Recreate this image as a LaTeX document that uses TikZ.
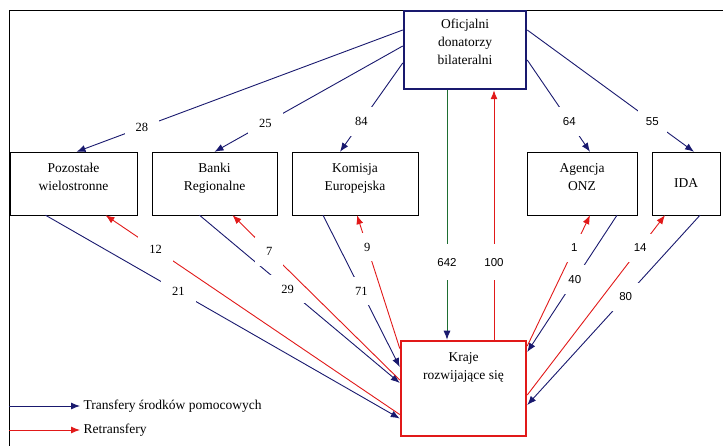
\documentclass[tikz,border=0pt]{standalone}
\usepackage{fontspec}
\setmainfont{Liberation Serif}
\newfontfamily\zifferfont{Liberation Sans}
\usetikzlibrary{arrows.meta}
\definecolor{granat}{RGB}{25,25,110}
\definecolor{rot}{RGB}{225,25,25}
\definecolor{gruen}{RGB}{30,110,50}
\tikzset{
  Kasten/.style={draw,thin,minimum height=63pt,align=center,inner sep=2pt,
    font=\fontsize{13.5}{18}\selectfont}, % Empfaenger
  Pfeil/.style={line width=0.9pt,-{Latex[length=9pt,width=7pt]}}, % Grundpfeil
  TPfeil/.style={granat,Pfeil}, % Transfers
  RPfeil/.style={rot,Pfeil}, % Retransfers
  Wert/.style={fill=white,text=black,inner xsep=11pt,inner ysep=10pt,
    font=\fontsize{12.5}{14}\selectfont},
  WertS/.style={Wert,inner xsep=8pt,font=\zifferfont\fontsize{11.5}{13}\selectfont}
}
\begin{document}
\begin{tikzpicture}[x=1pt,y=-1pt]
\useasboundingbox (0,0) rectangle (723,446);

%Rahmen
\draw[thin] (9,446) -- (9,10) -- (723,10);

%Knoten
\node[draw=granat,line width=2.5pt,fill=white,minimum width=122pt,minimum height=78pt,
  align=center,text depth=16pt,font=\fontsize{13.5}{18}\selectfont] (don) at (465,50)
  {Oficjalni\\donatorzy\\bilateralni};
\node[Kasten,text depth=13pt,minimum width=127pt] (poz) at (73.5,183.5) {Pozostałe\\wielostronne};
\node[Kasten,text depth=13pt,minimum width=125pt] (ban) at (214.5,183.5) {Banki\\Regionalne};
\node[Kasten,text depth=13pt,minimum width=126pt] (kom) at (355,183.5) {Komisja\\Europejska};
\node[Kasten,text depth=13pt,minimum width=110pt] (onz) at (582,183.5) {Agencja\\ONZ};
\node[Kasten,minimum width=68pt] (ida) at (686,183.5) {IDA};
\node[draw=rot,line width=2.5pt,minimum width=125pt,minimum height=95pt] (kra) at (463.5,388.5) {};
\node[anchor=north,align=center,font=\fontsize{13.5}{18}\selectfont] (krat)
  at ([yshift=-9pt]kra.north) {Kraje\\rozwijające się};

%Transfery od donatorow
\draw[TPfeil] ([yshift=20pt]don.west) -- node[Wert,pos=0.8]{28} ([xshift=3pt]poz.north);
\draw[TPfeil] ([yshift=4pt]don.west) -- node[Wert,pos=0.73]{25} (ban.north);
\draw[TPfeil] ([yshift=-13pt]don.west) -- node[Wert,pos=0.66]{84} ([xshift=-15pt]kom.north);
\draw[TPfeil] ([yshift=-10pt]don.east) -- node[WertS,pos=0.67]{64} ([xshift=8pt]onz.north);
\draw[TPfeil] ([yshift=20pt]don.east) -- node[WertS,pos=0.75]{55} ([xshift=8pt]ida.north);

%Bilateralne bezposrednio
\draw[gruen,line width=0.9pt,-{Latex[length=9pt,width=7pt,color=granat]}] ([xshift=-18pt]don.south)
  -- node[WertS,inner ysep=14pt,pos=0.69]{642} ([xshift=-18pt]don.south |- kra.north);
\draw[RPfeil] ([xshift=29pt]don.south |- kra.north) -- node[WertS,inner ysep=14pt,pos=0.31]{100} ([xshift=29pt]don.south);

%Transfery do krajow
\draw[TPfeil] ([xshift=-28pt]poz.south) -- node[Wert,pos=0.375]{21} ([yshift=-30pt]kra.west);
\draw[TPfeil] ([xshift=-15pt]ban.south) -- node[Wert,pos=0.44]{29} ([yshift=5.5pt]kra.west);
\draw[TPfeil] ([xshift=-32pt]kom.south) -- node[Wert,pos=0.5]{71} ([yshift=21.5pt]kra.west);
\draw[TPfeil] ([xshift=35pt]onz.south) -- node[WertS,pos=0.47]{40} ([yshift=36.5pt]kra.east);
\draw[TPfeil] ([xshift=14pt]ida.south) -- node[WertS,pos=0.43]{80} ([yshift=-16.5pt]kra.east);

%Retransfery
\draw[RPfeil] ([yshift=-26pt]kra.west) -- node[Wert,pos=0.83]{12} ([xshift=32pt]poz.south);
\draw[RPfeil] ([yshift=8.5pt]kra.west) -- node[Wert,pos=0.78]{7} ([xshift=18pt]ban.south);
\draw[RPfeil] ([yshift=40pt]kra.west) -- node[Wert,pos=0.76]{9} ([xshift=2pt]kom.south);
\draw[RPfeil] ([yshift=42.5pt]kra.east) -- node[WertS,pos=0.75]{1} ([xshift=8pt]onz.south);
\draw[RPfeil] ([yshift=-6.5pt]kra.east) -- node[WertS,pos=0.82]{14} ([xshift=-21pt]ida.south);

%Legende
\node[anchor=west,font=\fontsize{13.5}{16}\selectfont] (legT) at (80,406) {Transfery środków pomocowych};
\node[anchor=west,font=\fontsize{13.5}{16}\selectfont] (legR) at (80,430) {Retransfery};
\draw[TPfeil] (legT.west -| 9,0) -- (legT.west);
\draw[RPfeil] (legR.west -| 9,0) -- (legR.west);

\end{tikzpicture}
\end{document}
